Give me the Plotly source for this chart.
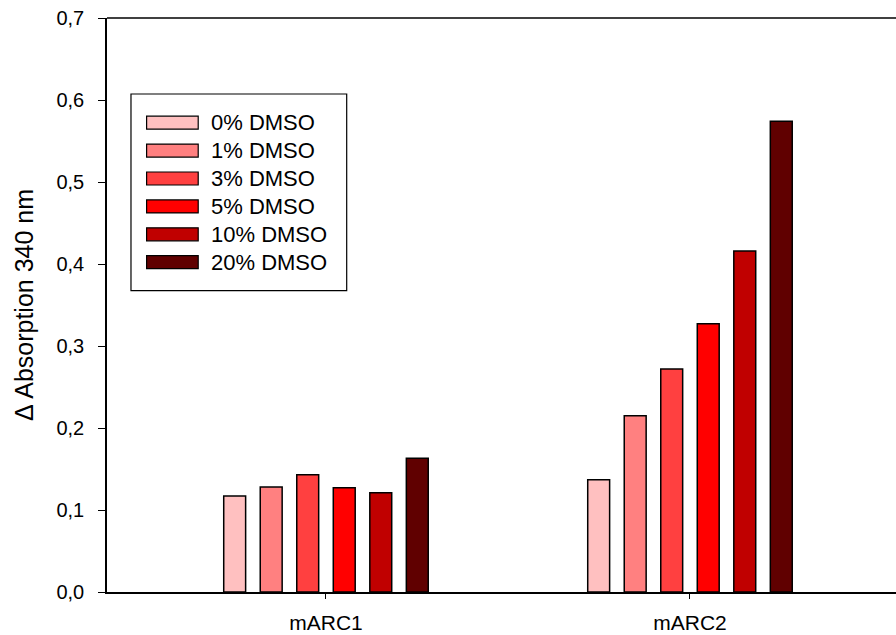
import plotly.graph_objects as go

categories = ["mARC1", "mARC2"]
series_names = ["0% DMSO", "1% DMSO", "3% DMSO", "5% DMSO", "10% DMSO", "20% DMSO"]
series_values = [
    [0.117, 0.137],
    [0.128, 0.215],
    [0.143, 0.272],
    [0.127, 0.327],
    [0.121, 0.416],
    [0.163, 0.574],
]
colors = ["#FFC0C0", "#FF8080", "#FF4040", "#FF0000", "#C00000", "#600000"]
y_ticks = [0.0, 0.1, 0.2, 0.3, 0.4, 0.5, 0.6, 0.7]

FONT = "Liberation Sans, Arial, sans-serif"

fig = go.Figure()
for name, vals, col in zip(series_names, series_values, colors):
    fig.add_trace(go.Bar(
        x=categories, y=vals, name=name,
        marker=dict(color=col, line=dict(color="#000000", width=1.5)),
        showlegend=False,
    ))

# Custom legend (box + swatches + labels) built from the series lists
shapes = [
    dict(type="rect", xref="paper", yref="paper", x0=0.0304, x1=0.3038,
         y0=0.5249, y1=0.8676, line=dict(color="#000000", width=1.2),
         fillcolor="rgba(0,0,0,0)"),
    # top frame line
    dict(type="line", xref="paper", yref="paper", x0=0, x1=1, y0=1, y1=1,
         line=dict(color="#000000", width=1.5)),
]
annotations = []
plot_top, plot_h = 18, 574
for i, (name, col) in enumerate(zip(series_names, colors)):
    cy = 122.7 + 27.9 * i
    yc = 1 - (cy - plot_top) / plot_h
    half = 6.5 / plot_h
    shapes.append(dict(type="rect", xref="paper", yref="paper",
                       x0=0.0502, x1=0.1156, y0=yc - half, y1=yc + half,
                       fillcolor=col, line=dict(color="#000000", width=1.2)))
    annotations.append(dict(xref="paper", yref="paper", x=0.1295, y=yc,
                            text=name, showarrow=False, xanchor="left",
                            yanchor="middle",
                            font=dict(family=FONT, size=22, color="#000000")))

fig.update_layout(
    width=896, height=635,
    margin=dict(l=107, r=0, t=18, b=43),
    paper_bgcolor="white", plot_bgcolor="white",
    barmode="group", bargap=0.398, bargroupgap=0.4,
    separators=",.",
    font=dict(family=FONT, size=20, color="#000000"),
    shapes=shapes, annotations=annotations,
    showlegend=False,
)
fig.update_xaxes(
    type="category", range=[-0.6016, 1.566],
    showline=True, linecolor="#000000", linewidth=2,
    ticks="outside", ticklen=5, tickwidth=1.2, tickcolor="#000000",
    showgrid=False, zeroline=False,
    tickfont=dict(family=FONT, size=21), ticklabelstandoff=6,
)
fig.update_yaxes(
    range=[0, 0.7], tickvals=y_ticks, tickformat=".1f",
    showline=True, linecolor="#000000", linewidth=1.5,
    ticks="outside", ticklen=7, tickwidth=1.2, tickcolor="#000000",
    showgrid=False, zeroline=False,
    tickfont=dict(family=FONT, size=20), ticklabelstandoff=10,
    title=dict(text="Δ Absorption 340 nm", font=dict(family=FONT, size=25),
               standoff=16),
)

fig.write_html("out.html", config={"displayModeBar": False},
               post_script="document.body.style.margin='0';")
